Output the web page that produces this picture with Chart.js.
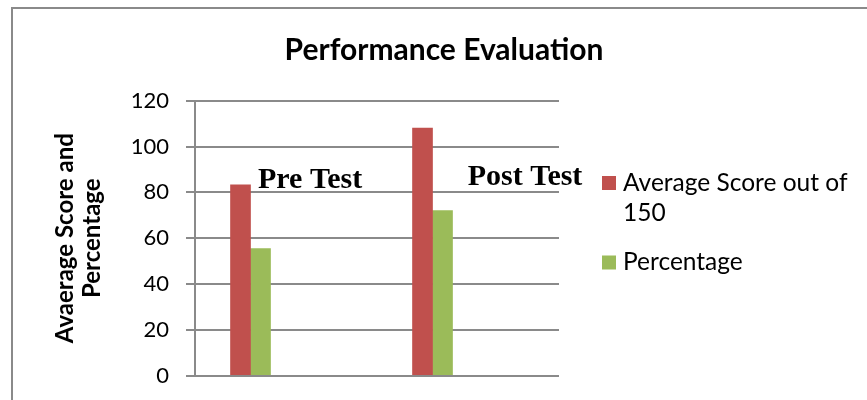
<!DOCTYPE html>
<html>
<head>
<meta charset="utf-8">
<title>Performance Evaluation</title>
<script src="https://cdn.jsdelivr.net/npm/chart.js@4.4.1/dist/chart.umd.min.js"></script>
<style>
body { margin: 0; background: #fff; }
#perfChart { display: block; }
</style>
</head>
<body>
<canvas id="perfChart" width="867" height="400"></canvas>
<script>
// values
const testNames = ['Pre Test', 'Post Test'];
const avgScore = [83.3, 108];
const percentage = [55.5, 72];
const yTicks = [0, 20, 40, 60, 80, 100, 120];
const seriesNames = ['Average Score out of 150', 'Percentage'];
const seriesColors = ['#C0504D', '#9BBB59'];

const GRID = '#8a8a8a';

// grey frame round the whole chart (right and bottom run off the page)
const framePlugin = {
    id: 'frame',
    beforeDraw(chart) {
        const c = chart.ctx;
        c.save();
        c.strokeStyle = GRID;
        c.lineWidth = 2;
        c.strokeRect(12, 8, chart.width + 50, chart.height + 50);
        c.restore();
    }
};

// "Pre Test" / "Post Test" were text boxes sitting inside the plot
const testLabels = {
    id: 'testLabels',
    afterDatasetsDraw(chart, args, opts) {
        const {ctx, scales: {x, y}} = chart;
        ctx.save();
        ctx.font = opts.font;
        ctx.fillStyle = '#000';
        ctx.textBaseline = 'alphabetic';
        testNames.forEach((t, i) => {
            const s = opts.spots[i];
            ctx.fillText(t, x.getPixelForValue(i + s.dx), y.getPixelForValue(s.y));
        });
        ctx.restore();
    }
};

function wrapWords(ctx, text, maxW) {
    const words = text.split(' ');
    const lines = [];
    let cur = '';
    for (const w of words) {
        const test = cur ? cur + ' ' + w : w;
        if (cur && ctx.measureText(test).width > maxW) {
            lines.push(cur);
            cur = w;
        } else {
            cur = test;
        }
    }
    lines.push(cur);
    return lines;
}

// legend on the right with wrapped labels
const sideLegend = {
    id: 'sideLegend',
    afterDraw(chart, args, o) {
        const ctx = chart.ctx;
        ctx.save();
        ctx.font = o.font;
        ctx.textBaseline = 'middle';
        let top = o.top;
        chart.data.datasets.forEach(ds => {
            const lines = wrapWords(ctx, ds.label, o.maxWidth);
            ctx.fillStyle = ds.backgroundColor;
            ctx.fillRect(o.left, top, o.box, o.box);
            ctx.fillStyle = '#000';
            lines.forEach((ln, k) => {
                ctx.fillText(ln, o.left + o.box + o.gap, top + o.box / 2 + k * o.lineHeight);
            });
            top += lines.length * o.lineHeight + o.spacing;
        });
        ctx.restore();
    }
};

new Chart(document.getElementById('perfChart'), {
    type: 'bar',
    data: {
        datasets: [
            {
                label: seriesNames[0],
                data: avgScore.map((v, i) => ({x: i, y: v})),
                backgroundColor: seriesColors[0],
                barThickness: 20
            },
            {
                label: seriesNames[1],
                data: percentage.map((v, i) => ({x: i, y: v})),
                backgroundColor: seriesColors[1],
                barThickness: 20
            }
        ]
    },
    options: {
        responsive: false,
        animation: false,
        devicePixelRatio: 1,
        layout: { padding: { left: 21, right: 0, top: 0, bottom: 0 } },
        scales: {
            x: {
                type: 'linear',
                offset: false,
                min: -0.305,
                max: 1.695,
                ticks: { display: false },
                grid: { display: false },
                border: { display: false },
                afterFit: s => { s.height = 24.3; }
            },
            y: {
                min: 0,
                max: 120,
                afterBuildTicks: s => { s.ticks = yTicks.map(v => ({value: v})); },
                ticks: {
                    padding: 17,
                    color: '#000',
                    font: { family: 'Lato', size: 22 }
                },
                grid: { color: GRID, lineWidth: 2, tickLength: 9 },
                border: { color: GRID, width: 2 },
                title: {
                    display: true,
                    text: ['Avaerage Score and', 'Percentage'],
                    color: '#000',
                    font: { family: 'Lato', size: 24, weight: 'bold', lineHeight: '27px' },
                    padding: { top: 31, bottom: 0 }
                },
                afterFit: s => {
                    s.width = 174;
                    // tick padding would otherwise push the plot bottom up
                    s.paddingTop = 13;
                    s.paddingBottom = 13;
                }
            },
            spacer: {
                axis: 'y',
                position: 'right',
                ticks: { display: false },
                grid: { display: false },
                border: { display: false },
                afterFit: s => { s.width = 308; }
            }
        },
        plugins: {
            legend: { display: false },
            tooltip: { enabled: false },
            title: {
                display: true,
                text: 'Performance Evaluation',
                color: '#000',
                font: { family: 'Lato', size: 30, weight: 'bold' },
                padding: { top: 32, bottom: 32.7 }
            },
            testLabels: {
                font: 'bold 30px "Liberation Serif"',
                spots: [{dx: 0.041, y: 81.8}, {dx: 0.193, y: 83.2}]
            },
            sideLegend: {
                font: '24.5px Lato',
                left: 602,
                top: 176,
                box: 14,
                gap: 7,
                lineHeight: 30,
                spacing: 19.5,
                maxWidth: 250
            }
        }
    },
    plugins: [framePlugin, testLabels, sideLegend]
});
</script>
</body>
</html>
